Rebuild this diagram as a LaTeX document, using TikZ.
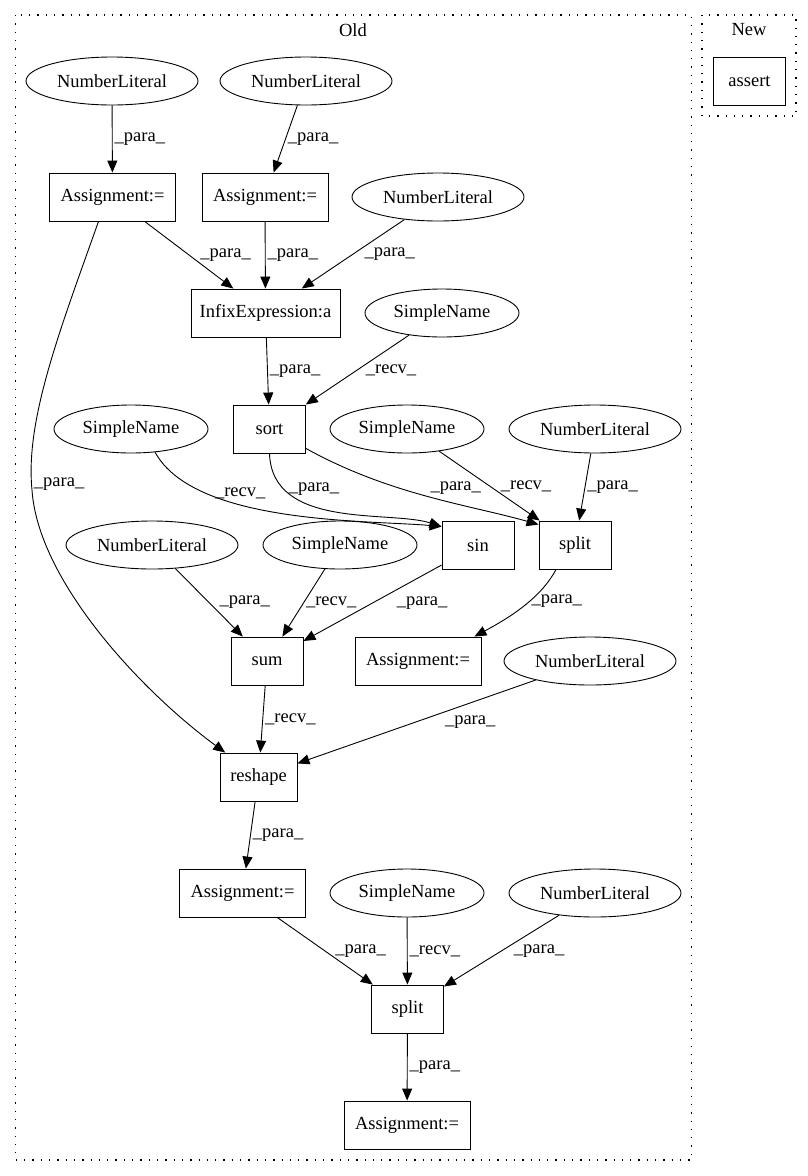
\documentclass[tikz,border=0pt]{standalone}
\usepackage{fontspec}
\setmainfont{Liberation Serif}
\usetikzlibrary{arrows.meta,shapes.geometric}

\begin{document}
\begin{tikzpicture}[x=1pt,y=-1pt,
  font=\fontsize{18.5}{20}\selectfont,
  box/.style={draw,line width=0.9pt,inner sep=0pt,minimum height=48pt,minimum width=72pt},
  wide/.style={box,minimum width=126pt},
  lit/.style={draw,ellipse,line width=0.9pt,inner sep=0pt,minimum height=48pt,minimum width=172pt},
  sname/.style={lit,minimum width=154pt},
  dep/.style={-{Triangle[length=12pt,width=10pt]},line width=0.9pt},
  lbl/.style={anchor=west,inner sep=2pt},
  clus/.style={line width=1.3pt,dash pattern=on 1.3pt off 7pt}]
\useasboundingbox (0,0) rectangle (808,1176);
\draw[clus] (15.5,15) rectangle (691.5,1160);
\draw[clus] (702,15) rectangle (796,116);
\node (old) at (353,30) {Old};
\node (new) at (749,30) {New};
\node[box] (assert) at (749.5,81) {assert};

\node[lit] (nl1) at (112,81) {NumberLiteral};
\node[lit] (nl2) at (306,81) {NumberLiteral};
\node[wide] (asg1) at (112.5,197) {Assignment:=};
\node[wide] (asg2) at (265,197) {Assignment:=};
\node[lit] (nl3) at (438,197) {NumberLiteral};
\node[box,minimum width=149pt] (infix) at (265.5,313) {InfixExpression:a};
\node[sname] (sn1) at (442,313) {SimpleName};
\node[box] (sort) at (269.5,429) {sort};
\node[sname] (sn2) at (131,429) {SimpleName};
\node[sname] (sn3) at (407,429) {SimpleName};
\node[lit] (nl4) at (595,429) {NumberLiteral};
\node[box] (sin) at (478,545) {sin};
\node[box] (split1) at (575,545) {split};
\node[lit] (nl5) at (152,545) {NumberLiteral};
\node[sname] (sn4) at (340,545) {SimpleName};
\node[box] (sum) at (267,661) {sum};
\node[wide] (asg3) at (418,661) {Assignment:=};
\node[lit] (nl6) at (590,661) {NumberLiteral};
\node[box,minimum width=77pt] (reshape) at (258.5,777) {reshape};
\node[wide] (asg4) at (242.5,893) {Assignment:=};
\node[sname] (sn5) at (407,893) {SimpleName};
\node[lit] (nl7) at (595,893) {NumberLiteral};
\node[box] (split2) at (407.5,1009) {split};
\node[wide] (asg5) at (407,1125) {Assignment:=};

\draw[dep] (nl1) -- node[lbl] {\_para\_} (asg1);
\draw[dep] (nl2) -- node[lbl] {\_para\_} (asg2);
\draw[dep] (asg1) -- node[lbl,xshift=9pt] {\_para\_} (infix);
\draw[dep] (asg2) -- node[lbl] {\_para\_} (infix);
\draw[dep] (nl3) -- node[lbl,xshift=9pt] {\_para\_} (infix);
\draw[dep] (infix) -- node[lbl] {\_para\_} (sort);
\draw[dep] (sn1) -- node[lbl,xshift=6pt] {\_recv\_} (sort);
\draw[dep] (sn2.-44) .. controls (195,525) and (370,520) .. node[lbl,pos=0.25,xshift=6pt] {\_recv\_} ([yshift=-6pt]sin.north west);
\draw[dep] (sort.south) .. controls (272,530) and (390,510) .. node[lbl,pos=0.2,xshift=3pt] {\_para\_} ([yshift=-6pt]sin.north west);
\draw[dep] ([yshift=5pt]sort.south east) .. controls (390,495) and (470,505) .. node[lbl,anchor=south west] {\_para\_} ([yshift=-4pt]split1.north west);
\draw[dep] (sn3) -- node[lbl,xshift=9pt] {\_recv\_} (split1);
\draw[dep] (nl4) -- node[lbl] {\_para\_} (split1);
\draw[dep] (nl5) -- node[lbl,xshift=8pt] {\_para\_} (sum);
\draw[dep] (sn4) -- node[lbl] {\_recv\_} (sum);
\draw[dep] (sin) -- node[lbl,xshift=22pt] {\_para\_} (sum);
\draw[dep] ([xshift=-19pt]split1.south) .. controls (540,600) and (505,620) .. node[lbl,pos=0.4] {\_para\_} ([xshift=-7pt]asg3.north east);
\draw[dep] ([xshift=-14pt]asg1.south) .. controls (60,330) and (25,420) .. node[lbl,pos=0.97] {\_para\_} (32,490) .. controls (38,580) and (140,690) .. (reshape);
\draw[dep] (sum) -- node[lbl] {\_recv\_} (reshape);
\draw[dep] (nl6) -- node[lbl,xshift=26pt] {\_para\_} (reshape);
\draw[dep] (reshape) -- node[lbl] {\_para\_} (asg4);
\draw[dep] (asg4) -- node[lbl,xshift=8pt] {\_para\_} (split2);
\draw[dep] (sn5) -- node[lbl] {\_recv\_} (split2);
\draw[dep] (nl7) -- node[lbl,xshift=10pt] {\_para\_} (split2);
\draw[dep] (split2) -- node[lbl] {\_para\_} (asg5);
\end{tikzpicture}
\end{document}
